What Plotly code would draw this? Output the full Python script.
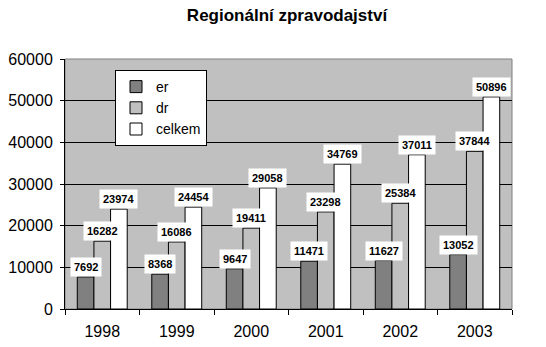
import plotly.graph_objects as go

years = ["1998", "1999", "2000", "2001", "2002", "2003"]
er = [7692, 8368, 9647, 11471, 11627, 13052]
dr = [16282, 16086, 19411, 23298, 25384, 37844]
celkem = [23974, 24454, 29058, 34769, 37011, 50896]

series_names = ["er", "dr", "celkem"]
series_values = [er, dr, celkem]
series_colors = ["#808080", "#C0C0C0", "#FFFFFF"]

FONT = "Liberation Sans, Arial, sans-serif"

fig = go.Figure()
for name, vals, col in zip(series_names, series_values, series_colors):
    fig.add_trace(go.Bar(
        x=years, y=vals, name=name,
        marker=dict(color=col, line=dict(color="black", width=1)),
    ))

L, R, T, B = 65, 34, 59, 38
W, H = 546, 347
plot_w = W - L - R
cat_w = plot_w / len(years)
bargap = 0.33
bar_w = cat_w * (1 - bargap) / 3
offsets = [-bar_w, 0, bar_w]

for vals, off in zip(series_values, offsets):
    for i, v in enumerate(vals):
        fig.add_annotation(
            x=i, y=v, xshift=off, yanchor="bottom", yshift=0,
            text="<b>%d</b>" % v, showarrow=False,
            bgcolor="white", borderpad=3,
            font=dict(family=FONT, size=11, color="black"),
        )

fig.update_layout(
    width=W, height=H,
    margin=dict(l=L, r=R, t=T, b=B, pad=0, autoexpand=False),
    paper_bgcolor="white", plot_bgcolor="#C0C0C0",
    barmode="group", bargap=bargap, bargroupgap=0,
    title=dict(text="<b>Regionální zpravodajství</b>", x=287 / W, xanchor="center",
               y=1 - 15 / H, yanchor="middle",
               font=dict(family=FONT, size=17, color="black")),
    font=dict(family=FONT, size=15, color="black"),
    legend=dict(x=(115 - L) / plot_w, y=1 - (70 - T) / (H - T - B),
                xanchor="left", yanchor="top",
                bgcolor="white", bordercolor="black", borderwidth=1,
                font=dict(family=FONT, size=14, color="black"),
                tracegroupgap=0, itemwidth=30),
    showlegend=True,
)
fig.update_yaxes(range=[0, 60000], dtick=10000, tickformat="d", showgrid=True,
                 gridcolor="black", gridwidth=1, showline=True, linecolor="black",
                 ticks="outside", ticklen=4, tickcolor="black", zeroline=False,
                 ticklabelstandoff=4, automargin=False,
                 tickfont=dict(family=FONT, size=16))
fig.update_xaxes(type="category", range=[-0.5, len(years) - 0.5], showline=True,
                 linecolor="black", ticks="outside", automargin=False,
                 ticklen=5, tickcolor="black", tickson="boundaries", showgrid=False,
                 tickangle=0, ticklabelstandoff=8,
                 tickfont=dict(family=FONT, size=16))
fig.add_shape(type="rect", xref="paper", yref="paper", x0=0, y0=0, x1=1, y1=1,
              line=dict(color="#808080", width=1), layer="below")

fig.write_html("out.html")
